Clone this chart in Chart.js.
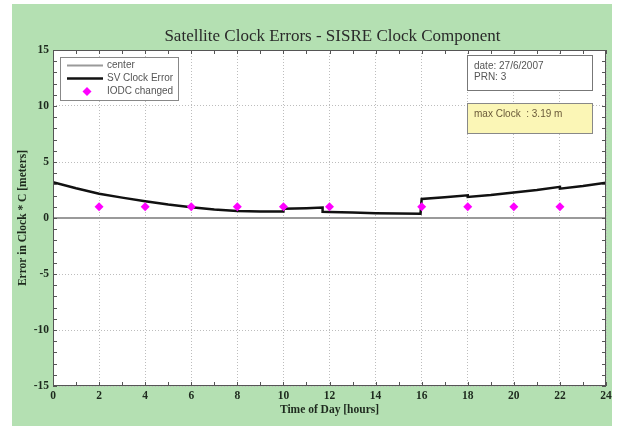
<!DOCTYPE html>
<html>
<head>
<meta charset="utf-8">
<script src="https://cdn.jsdelivr.net/npm/chart.js@4/dist/chart.umd.min.js"></script>
<style>
html,body{margin:0;padding:0;background:#fff;}
canvas{display:block;}
</style>
</head>
<body>
<canvas id="c" width="621" height="427"></canvas>
<script>
// ---- data ----
const titleText = "Satellite Clock Errors - SISRE Clock Component";
const xTitle = "Time of Day [hours]";
const yTitle = "Error in Clock * C [meters]";
const infoLines = ["date: 27/6/2007", "PRN: 3"];
const maxText = "max Clock  : 3.19 m";

const centerHours = [0, 24];
const centerValues = [0, 0];

const clockHours  = [0, 1, 2, 3, 4, 5, 6, 7, 8, 9, 10, 10, 11, 11.7, 11.7, 12, 13, 14, 15, 15.95, 16, 17, 18, 18, 19, 20, 21, 22, 22, 23, 24];
const clockValues = [3.19, 2.65, 2.17, 1.82, 1.5, 1.2, 0.95, 0.76, 0.63, 0.58, 0.58, 0.82, 0.87, 0.93, 0.55, 0.53, 0.48, 0.43, 0.40, 0.38, 1.70, 1.85, 2.02, 1.88, 2.05, 2.27, 2.5, 2.78, 2.62, 2.85, 3.15];

const iodcHours  = [2, 4, 6, 8, 10, 12, 16, 18, 20, 22];
const iodcValues = [1, 1, 1, 1, 1, 1, 1, 1, 1, 1];

const seriesLabels = ["center", "SV Clock Error", "IODC changed"];

const toXY = (xs, ys) => xs.map((x, i) => ({x: x, y: ys[i]}));

const SERIF = "'Liberation Serif', 'DejaVu Serif', serif";
const SANS = "'Liberation Sans', Arial, sans-serif";
const GREEN = "#b4e0b2";

const decor = {
  id: 'decor',
  beforeDraw(chart) {
    const ctx = chart.ctx, a = chart.chartArea;
    ctx.save();
    ctx.fillStyle = '#fff';
    ctx.fillRect(0, 0, chart.width, chart.height);
    ctx.fillStyle = GREEN;
    ctx.fillRect(12, 4, 600, 422);
    ctx.fillStyle = '#fff';
    ctx.fillRect(a.left, a.top, a.right - a.left, a.bottom - a.top);
    // title
    ctx.fillStyle = '#2a2a2a';
    ctx.font = "17px " + SERIF;
    ctx.textAlign = 'center';
    ctx.textBaseline = 'middle';
    ctx.fillText(titleText, (a.left + a.right) / 2 + 3, 37);
    ctx.restore();
  },
  afterDraw(chart) {
    const ctx = chart.ctx, a = chart.chartArea;
    const xs = chart.scales.x, ys = chart.scales.y;
    ctx.save();
    // frame
    ctx.strokeStyle = '#555';
    ctx.lineWidth = 1;
    ctx.strokeRect(a.left + 0.5, a.top + 0.5, a.right - a.left - 1, a.bottom - a.top - 1);
    // inward ticks
    ctx.beginPath();
    for (let h = xs.min; h <= xs.max; h += 1) {
      const px = Math.round(xs.getPixelForValue(h)) + 0.5;
      const len = 4;
      ctx.moveTo(px, a.bottom); ctx.lineTo(px, a.bottom - len);
      ctx.moveTo(px, a.top); ctx.lineTo(px, a.top + len);
    }
    for (let v = ys.min; v <= ys.max; v += 1) {
      const py = Math.round(ys.getPixelForValue(v)) + 0.5;
      const len = 4;
      ctx.moveTo(a.left, py); ctx.lineTo(a.left + len, py);
      ctx.moveTo(a.right, py); ctx.lineTo(a.right - len, py);
    }
    ctx.stroke();

    // legend box
    const ds = chart.data.datasets;
    ctx.fillStyle = '#fff';
    ctx.fillRect(60, 57, 118, 43);
    ctx.strokeStyle = '#888';
    ctx.strokeRect(60.5, 57.5, 118, 43);
    ctx.font = "10px " + SANS;
    ctx.textAlign = 'left';
    ctx.textBaseline = 'middle';
    const rows = [65.5, 78.5, 91.5];
    ctx.strokeStyle = ds[0].borderColor; ctx.lineWidth = ds[0].borderWidth;
    ctx.beginPath(); ctx.moveTo(67, rows[0]); ctx.lineTo(103, rows[0]); ctx.stroke();
    ctx.strokeStyle = ds[1].borderColor; ctx.lineWidth = ds[1].borderWidth;
    ctx.beginPath(); ctx.moveTo(67, rows[1]); ctx.lineTo(103, rows[1]); ctx.stroke();
    ctx.fillStyle = ds[2].backgroundColor;
    ctx.beginPath();
    ctx.moveTo(87, rows[2] - 4.5); ctx.lineTo(91.5, rows[2]); ctx.lineTo(87, rows[2] + 4.5); ctx.lineTo(82.5, rows[2]);
    ctx.closePath(); ctx.fill();
    ctx.fillStyle = '#555';
    for (let i = 0; i < 3; i++) ctx.fillText(ds[i].label, 107, rows[i]);

    // info box
    ctx.fillStyle = '#fff';
    ctx.fillRect(467, 55, 125, 35);
    ctx.strokeStyle = '#777'; ctx.lineWidth = 1;
    ctx.strokeRect(467.5, 55.5, 125, 35);
    ctx.fillStyle = '#555';
    ctx.fillText(infoLines[0], 474, 66);
    ctx.fillText(infoLines[1], 474, 77);
    // max box
    ctx.fillStyle = '#fbf6b6';
    ctx.fillRect(467, 103, 125, 30);
    ctx.strokeStyle = '#888';
    ctx.strokeRect(467.5, 103.5, 125, 30);
    ctx.fillStyle = '#6a5a3a';
    ctx.fillText(maxText, 474, 114);
    ctx.restore();
  }
};

new Chart(document.getElementById('c'), {
  type: 'scatter',
  data: {
    datasets: [
      {label: seriesLabels[0], data: toXY(centerHours, centerValues), showLine: true,
       borderColor: '#9a9a9a', borderWidth: 2, pointRadius: 0, order: 3},
      {label: seriesLabels[1], data: toXY(clockHours, clockValues), showLine: true,
       borderColor: '#111', borderWidth: 2.5, pointRadius: 0, tension: 0, order: 2},
      {label: seriesLabels[2], data: toXY(iodcHours, iodcValues), showLine: false,
       backgroundColor: '#ff00ff', borderColor: '#ff00ff', pointStyle: 'rectRot',
       pointRadius: 4.5, borderWidth: 0, order: 1}
    ]
  },
  options: {
    responsive: false,
    animation: false,
    devicePixelRatio: 1,
    layout: {padding: {left: 0, right: 15, top: 50, bottom: 0}},
    plugins: {legend: {display: false}, title: {display: false}, tooltip: {enabled: false}},
    scales: {
      x: {
        type: 'linear', min: 0, max: 24,
        ticks: {stepSize: 2, padding: 3, color: '#1e2a1e', font: {family: SERIF, size: 11.5, weight: 'bold'}, maxRotation: 0},
        grid: {color: '#bdbdbd', drawTicks: false, lineWidth: 1},
        border: {display: false, dash: [1, 2]},
        title: {display: true, text: xTitle, color: '#1e2a1e', font: {family: SERIF, size: 11.5, weight: 'bold'}, padding: {top: 0, bottom: 10}},
        afterFit(s) { s.height = 41; }
      },
      y: {
        type: 'linear', min: -15, max: 15,
        ticks: {stepSize: 5, padding: 4, color: '#1e2a1e', font: {family: SERIF, size: 11.5, weight: 'bold'}},
        grid: {color: '#bdbdbd', drawTicks: false, lineWidth: 1},
        border: {display: false, dash: [1, 2]},
        title: {display: true, text: yTitle, color: '#1e2a1e', font: {family: SERIF, size: 11.5, weight: 'bold'}, padding: {top: 16, bottom: 0}},
        afterFit(s) { s.width = 53; }
      }
    }
  },
  plugins: [decor]
});
</script>
</body>
</html>
